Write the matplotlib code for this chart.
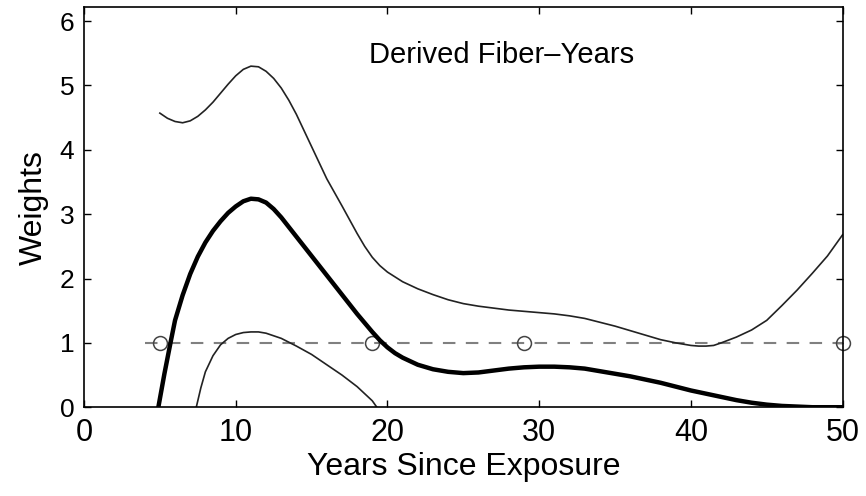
import matplotlib
matplotlib.use("Agg")
import matplotlib.pyplot as plt

plt.rcParams['font.family'] = ['Liberation Sans', 'DejaVu Sans']

# Weight estimate (thick line)
mean_x = [4.9, 5.3, 5.7, 6, 6.5, 7, 7.5, 8, 8.5, 9, 9.5, 10, 10.5, 11, 11.5,
          12, 12.5, 13, 14, 15, 16, 17, 18, 19, 19.5, 20, 20.5, 21, 22, 23,
          24, 25, 26, 27, 28, 29, 30, 31, 32, 33, 34, 35, 36, 37, 38, 39, 40,
          41, 42, 43, 44, 45, 46, 47, 48, 50]
mean_y = [0, 0.52, 1.0, 1.35, 1.74, 2.07, 2.34, 2.56, 2.74, 2.89, 3.02, 3.12,
          3.2, 3.24, 3.23, 3.18, 3.08, 2.95, 2.65, 2.35, 2.05, 1.75, 1.45,
          1.17, 1.04, 0.93, 0.84, 0.77, 0.66, 0.59, 0.55, 0.53, 0.54, 0.57,
          0.6, 0.62, 0.63, 0.63, 0.62, 0.6, 0.56, 0.52, 0.48, 0.43, 0.38,
          0.32, 0.26, 0.21, 0.16, 0.11, 0.07, 0.04, 0.02, 0.01, 0, 0]

# Upper band
upper_x = [5, 5.5, 6, 6.5, 7, 7.5, 8, 8.5, 9, 9.5, 10, 10.5, 11, 11.5, 12,
           12.5, 13, 13.5, 14, 15, 16, 17, 18, 18.5, 19, 19.5, 20, 21, 22, 23,
           24, 25, 26, 27, 28, 29, 30, 31, 32, 33, 34, 35, 36, 37, 38, 39, 40,
           40.5, 41, 41.5, 42, 43, 44, 45, 46, 47, 48, 49, 50]
upper_y = [4.57, 4.49, 4.44, 4.42, 4.45, 4.52, 4.62, 4.74, 4.88, 5.02, 5.15,
           5.25, 5.3, 5.29, 5.22, 5.11, 4.96, 4.77, 4.55, 4.05, 3.55, 3.13,
           2.7, 2.5, 2.33, 2.2, 2.1, 1.95, 1.84, 1.75, 1.67, 1.61, 1.57, 1.54,
           1.51, 1.49, 1.47, 1.45, 1.42, 1.38, 1.32, 1.26, 1.19, 1.12, 1.05,
           1.0, 0.96, 0.95, 0.95, 0.96, 1.0, 1.09, 1.2, 1.35, 1.58, 1.82,
           2.08, 2.35, 2.68]

# Lower band
lower_x = [7.4, 7.7, 8, 8.5, 9, 9.5, 10, 10.5, 11, 11.5, 12, 13, 14, 15, 16,
           17, 18, 19, 19.3]
lower_y = [0, 0.3, 0.55, 0.8, 0.97, 1.07, 1.13, 1.16, 1.17, 1.17, 1.15, 1.07,
           0.95, 0.82, 0.66, 0.5, 0.32, 0.1, 0]

# Reference line and knots
ref_x = [4, 50]
ref_y = [1, 1]
knot_x = [5, 19, 29, 50]
knot_y = [1, 1, 1, 1]

fig = plt.figure(figsize=(8.66, 4.96), dpi=100)
ax = fig.add_axes([0.097, 0.179, 0.876, 0.807])

ax.plot(ref_x, ref_y, '--', color='#808080', lw=1.5, dashes=(6, 5))
ax.plot(knot_x, knot_y, 'o', mfc='none', mec='#444444', mew=1.1, ms=10,
        clip_on=False)
ax.plot(upper_x, upper_y, '-', color='#222222', lw=1.2)
ax.plot(lower_x, lower_y, '-', color='#222222', lw=1.2)
ax.plot(mean_x, mean_y, '-', color='black', lw=3.2)

ax.text(27.5, 5.47, 'Derived Fiber\u2013Years', fontsize=21, ha='center',
        va='center')

ax.set_xlim(0, 50)
ax.set_ylim(0, 6.22)
ax.set_xticks([0, 10, 20, 30, 40, 50])
ax.set_yticks([0, 1, 2, 3, 4, 5, 6])
ax.tick_params(direction='in', length=5, width=1, top=True, right=True)
ax.tick_params(axis='x', labelsize=22, pad=8)
ax.tick_params(axis='y', labelsize=19, pad=7)
for s in ax.spines.values():
    s.set_linewidth(1.2)
ax.set_xlabel('Years Since Exposure', fontsize=23, labelpad=3)
ax.set_ylabel('Weights', fontsize=23, labelpad=8)

fig.savefig('out.png', dpi=100)
